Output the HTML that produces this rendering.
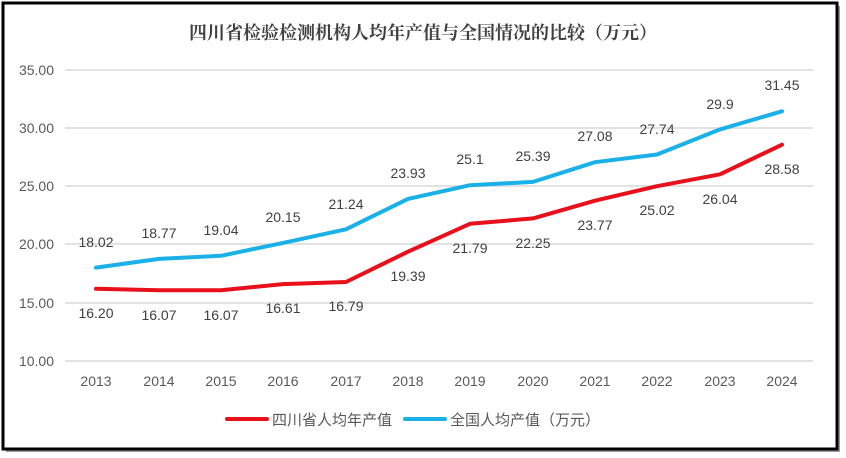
<!DOCTYPE html>
<html><head><meta charset="utf-8"><style>
html,body{margin:0;padding:0;background:#fff;}
svg{display:block;font-family:"Liberation Sans","Noto Sans CJK SC",sans-serif;}
</style></head><body>
<svg width="846" height="458" viewBox="0 0 846 458" xmlns="http://www.w3.org/2000/svg">
<rect x="6" y="6" width="834" height="446" fill="#999"/>
<rect x="3" y="3" width="834" height="446" fill="#fff" stroke="#000" stroke-width="3"/>
<text x="423" y="39" text-anchor="middle" font-family="'Noto Serif CJK SC',serif" font-weight="bold" font-size="18" fill="#404040">四川省检验检测机构人均年产值与全国情况的比较（万元）</text>
<g stroke="#d9d9d9" stroke-width="1.5">
<line x1="65" y1="70" x2="813" y2="70"/><line x1="65" y1="128" x2="813" y2="128"/><line x1="65" y1="186" x2="813" y2="186"/><line x1="65" y1="244" x2="813" y2="244"/><line x1="65" y1="303" x2="813" y2="303"/><line x1="65" y1="361" x2="813" y2="361"/>
</g>
<g font-size="14" fill="#595959" text-anchor="end">
<text x="54" y="75">35.00</text><text x="54" y="133">30.00</text><text x="54" y="191">25.00</text><text x="54" y="249">20.00</text><text x="54" y="308">15.00</text><text x="54" y="366">10.00</text>
</g>
<g font-size="14" fill="#595959" text-anchor="middle">
<text x="96" y="386">2013</text><text x="159" y="386">2014</text><text x="221" y="386">2015</text><text x="283" y="386">2016</text><text x="346" y="386">2017</text><text x="408" y="386">2018</text><text x="470" y="386">2019</text><text x="533" y="386">2020</text><text x="595" y="386">2021</text><text x="657" y="386">2022</text><text x="720" y="386">2023</text><text x="782" y="386">2024</text>
</g>
<polyline fill="none" stroke="#1ab0e8" stroke-width="4" stroke-linejoin="round" stroke-linecap="round" points="96,267.6 159,258.9 221,255.8 283,242.9 346,229.3 408,198.9 470,185.2 533,181.9 595,162.2 657,154.5 720,129.4 782,111.3"/>
<polyline fill="none" stroke="#e8101a" stroke-width="4" stroke-linejoin="round" stroke-linecap="round" points="96,288.8 159,290.3 221,290.3 283,284.1 346,282 408,251.7 470,223.8 533,218.4 595,200.7 657,186.2 720,174.3 782,144.7"/>
<g font-size="14" fill="#404040" text-anchor="middle">
<text x="96" y="247">18.02</text><text x="159" y="238">18.77</text><text x="221" y="235">19.04</text><text x="283" y="222">20.15</text><text x="346" y="209">21.24</text><text x="408" y="178">23.93</text><text x="470" y="164">25.1</text><text x="533" y="161">25.39</text><text x="595" y="141">27.08</text><text x="657" y="134">27.74</text><text x="720" y="109">29.9</text><text x="782" y="90">31.45</text>
<text x="96" y="318">16.20</text><text x="159" y="320">16.07</text><text x="221" y="320">16.07</text><text x="283" y="313">16.61</text><text x="346" y="311">16.79</text><text x="408" y="281">19.39</text><text x="470" y="253">21.79</text><text x="533" y="248">22.25</text><text x="595" y="230">23.77</text><text x="657" y="215">25.02</text><text x="720" y="204">26.04</text><text x="782" y="174">28.58</text>
</g>
<line x1="227" y1="419" x2="267" y2="419" stroke="#e8101a" stroke-width="4" stroke-linecap="round"/>
<text x="272" y="425" font-size="15" fill="#595959">四川省人均年产值</text>
<line x1="405" y1="419" x2="445" y2="419" stroke="#1ab0e8" stroke-width="4" stroke-linecap="round"/>
<text x="450" y="425" font-size="15" fill="#595959">全国人均产值（万元）</text>
</svg>
</body></html>
